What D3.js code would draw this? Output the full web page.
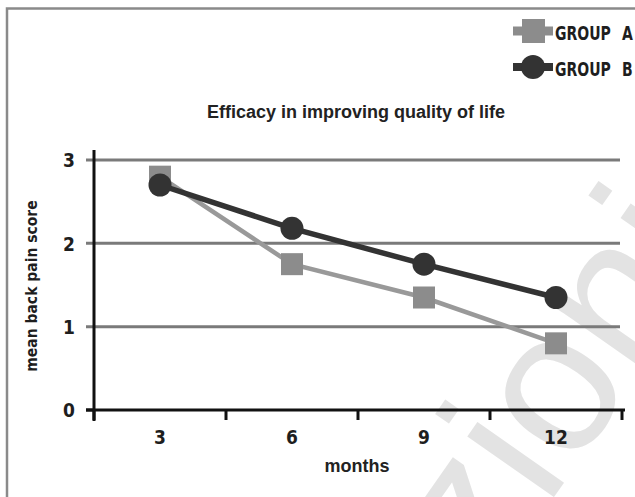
<!DOCTYPE html>
<html>
<head>
<meta charset="utf-8">
<script src="https://cdn.jsdelivr.net/npm/d3@7"></script>
<style>
  html, body { margin: 0; padding: 0; background: #fff; }
  svg { display: block; }
  .cond { font-family: "DejaVu Sans Condensed", "DejaVu Sans", sans-serif; font-stretch: condensed; font-weight: bold; fill: #1e1e1e; }
  .arial { font-family: "Liberation Sans", Arial, sans-serif; font-weight: bold; fill: #222; }
</style>
</head>
<body>
<script>
// Chart data
const months = ["3", "6", "9", "12"];
const groupA = [2.8, 1.75, 1.35, 0.8];
const groupB = [2.7, 2.18, 1.75, 1.35];
const yTicks = [0, 1, 2, 3];
const seriesNames = ["GROUP", "GROUP"];
const seriesLetters = ["A", "B"];
const title = "Efficacy in improving quality of life";
const xTitle = "months";
const yTitle = "mean back pain score";

const W = 635, H = 497;
const svg = d3.select("body").append("svg").attr("width", W).attr("height", H);

// faint publisher watermark behind everything
svg.append("text")
  .attr("transform", "translate(489,590) rotate(-55)")
  .attr("font-family", "Liberation Sans, Arial, sans-serif")
  .attr("font-size", 200)
  .attr("fill", "#e3e3e3")
  .text("zioni");

// frame
svg.append("path")
  .attr("d", "M7,497 V8.5 H635")
  .attr("fill", "none").attr("stroke", "#8a8a8a").attr("stroke-width", 2.5);

const x = d3.scaleBand().domain(months).range([94, 622]).paddingInner(0).paddingOuter(0);
const y = d3.scaleLinear().domain([0, 3]).range([410, 160]);
const cx = d => x(d) + x.bandwidth() / 2;

// horizontal gridlines
svg.append("g").selectAll("line").data(yTicks.filter(t => t > 0)).join("line")
  .attr("x1", 86).attr("x2", 620)
  .attr("y1", d => y(d)).attr("y2", d => y(d))
  .attr("stroke", "#7a7a7a").attr("stroke-width", 3);

// y axis
const yAxis = svg.append("g").attr("transform", "translate(94,0)")
  .call(d3.axisLeft(y).tickValues(yTicks).tickSize(0).tickPadding(19).tickFormat(d3.format("d")));
yAxis.select(".domain").remove();
yAxis.selectAll("text").attr("class", "cond").attr("font-size", 19).attr("dy", "0.36em");
svg.append("line").attr("x1", 94).attr("x2", 94).attr("y1", 150).attr("y2", 421)
  .attr("stroke", "#111").attr("stroke-width", 3);
svg.append("line").attr("x1", 86).attr("x2", 94).attr("y1", y(0)).attr("y2", y(0))
  .attr("stroke", "#111").attr("stroke-width", 3);

// x axis
svg.append("line").attr("x1", 86).attr("x2", 625).attr("y1", 410).attr("y2", 410)
  .attr("stroke", "#111").attr("stroke-width", 3);
const bounds = months.map(m => x(m)).concat([x(months[months.length - 1]) + x.bandwidth()]);
svg.append("g").selectAll("line").data(bounds).join("line")
  .attr("x1", d => d).attr("x2", d => d).attr("y1", 410).attr("y2", 420)
  .attr("stroke", "#111").attr("stroke-width", 3);
svg.append("g").selectAll("text").data(months).join("text")
  .attr("class", "cond").attr("font-size", 19)
  .attr("x", d => cx(d)).attr("y", 444).attr("text-anchor", "middle")
  .text(d => d);

// titles
svg.append("text").attr("class", "arial").attr("font-size", 18)
  .attr("x", 356).attr("y", 118).attr("text-anchor", "middle").text(title);
svg.append("text").attr("class", "arial").attr("font-size", 18)
  .attr("x", 357).attr("y", 472).attr("text-anchor", "middle").text(xTitle);
svg.append("text").attr("class", "cond").attr("font-size", 15.5)
  .attr("transform", "translate(37,286) rotate(-90)").attr("text-anchor", "middle").text(yTitle);

// series
const line = d3.line().x((d, i) => cx(months[i])).y(d => y(d));
svg.append("path").datum(groupA).attr("d", line)
  .attr("fill", "none").attr("stroke", "#999").attr("stroke-width", 4.5);
svg.append("g").selectAll("rect").data(groupA).join("rect")
  .attr("x", (d, i) => cx(months[i]) - 11).attr("y", d => y(d) - 11)
  .attr("width", 22).attr("height", 22).attr("fill", "#8c8c8c");

svg.append("path").datum(groupB).attr("d", line)
  .attr("fill", "none").attr("stroke", "#333").attr("stroke-width", 5.5);
svg.append("g").selectAll("circle").data(groupB).join("circle")
  .attr("cx", (d, i) => cx(months[i])).attr("cy", d => y(d)).attr("r", 11.5)
  .attr("fill", "#333");

// legend
const lg = svg.append("g");
lg.append("line").attr("x1", 513).attr("x2", 553).attr("y1", 31).attr("y2", 31)
  .attr("stroke", "#8c8c8c").attr("stroke-width", 9);
lg.append("rect").attr("x", 522).attr("y", 19).attr("width", 23).attr("height", 24).attr("fill", "#8c8c8c");
lg.append("line").attr("x1", 513).attr("x2", 553).attr("y1", 67).attr("y2", 67)
  .attr("stroke", "#333").attr("stroke-width", 8);
lg.append("circle").attr("cx", 533).attr("cy", 67).attr("r", 12).attr("fill", "#333");
[40, 76].forEach((by, i) => {
  const t = lg.append("text").attr("class", "cond").attr("font-size", 19.5)
    .attr("transform", `translate(555,${by}) scale(0.8,1)`).text(seriesNames[i]);
  t.append("tspan").attr("dx", 14).text(seriesLetters[i]);
});
</script>
</body>
</html>
